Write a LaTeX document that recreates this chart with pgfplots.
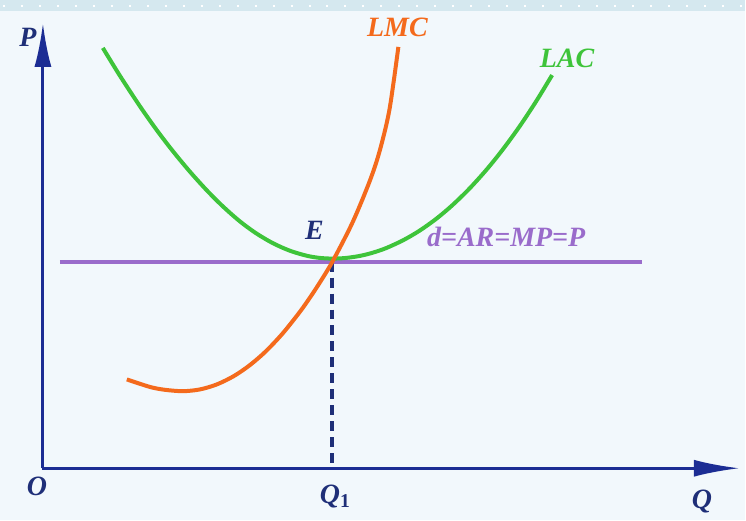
\documentclass[border=0pt]{standalone}
\usepackage{pgfplots}
\pgfplotsset{compat=1.18}
\usepackage{fontspec}
\setmainfont{Liberation Serif}
\usetikzlibrary{arrows.meta}

\definecolor{bgcol}{HTML}{F2F8FC}
\definecolor{bandcol}{HTML}{D5E8EF}
\definecolor{axiscol}{HTML}{1C2D94}
\definecolor{lacgreen}{HTML}{3EC43A}
\definecolor{lmcorange}{HTML}{F46A1C}
\definecolor{dpurple}{HTML}{9A6CCB}
\definecolor{labblue}{HTML}{1F2F78}

\begin{document}
\begin{tikzpicture}[lab/.style={font=\fontsize{14}{16}\selectfont\bfseries\itshape}]
\begin{axis}[
  x=0.5pt, y=0.5pt,
  xmin=0, xmax=746, ymin=0, ymax=521,
  hide axis, clip=false,
]
% background and top band
\addplot[fill=bgcol, draw=none] coordinates {(0,0) (746,0) (746,521) (0,521)} -- cycle;
\addplot[fill=bandcol, draw=none] coordinates {(0,510) (746,510) (746,521) (0,521)} -- cycle;
\addplot[white, line width=1.2pt, dash pattern=on 1pt off 8pt] coordinates {(3,515) (746,515)};

% axes
\addplot[axiscol, line width=1.5pt, -{Latex[length=22pt,width=8.5pt]}] coordinates {(43,52) (43,498)};
\addplot[axiscol, line width=1.5pt, -{Latex[length=23pt,width=8.5pt]}] coordinates {(42.3,52) (741,52)};

% price line d=AR=MP=P
\addplot[dpurple, line width=2pt] coordinates {(60,259) (643,259)};

% Q1 dashed guide
\addplot[labblue, line width=2pt, dash pattern=on 5pt off 3pt] coordinates {(333,259) (333,53)};

% LAC
\addplot[lacgreen, line width=2pt, smooth] coordinates {
  (103,473) (120,445.3) (140,414.8) (157,390.7) (173,369.8) (190,349.3) (207,330.5)
  (223,314.5) (240,299.5) (256,287.7) (273,277.6) (290,270) (307,264.9) (320,262.7)
  (333,262) (346,262.6) (360,264.6) (373,267.8) (387,272.6) (404,280.5) (420,289.8)
  (437,301.9) (453,315.4) (470,331.9) (487,350.7) (503,370.5) (520,393.8) (537,419.5)
  (553,445.8)};

% LMC
\addplot[lmcorange, line width=2pt, smooth] coordinates {
  (127,141) (150,133.5) (165,130.6) (183,129.2) (200,130.9) (217,135.9) (234,144.2)
  (250,155.1) (266,168.9) (283,186.9) (300,208.2) (310,222.3) (320,237.5) (333,259)
  (353,298) (370,338.8) (380,368.8) (390,410.8) (399,474)};

% labels
\node[lab, labblue] at (axis cs:28,484) {P};
\node[lab, labblue] at (axis cs:37,34) {O};
\node[lab, labblue] at (axis cs:336,24) {Q\textsubscript{\upshape 1}};
\node[lab, labblue] at (axis cs:703,19) {Q};
\node[lab, labblue] at (axis cs:315,290) {E};
\node[lab, lmcorange] at (axis cs:398,494) {LMC};
\node[lab, lacgreen] at (axis cs:568,463) {LAC};
\node[lab, dpurple] at (axis cs:507,284) {d=AR=MP=P};
\end{axis}
\end{tikzpicture}
\end{document}
